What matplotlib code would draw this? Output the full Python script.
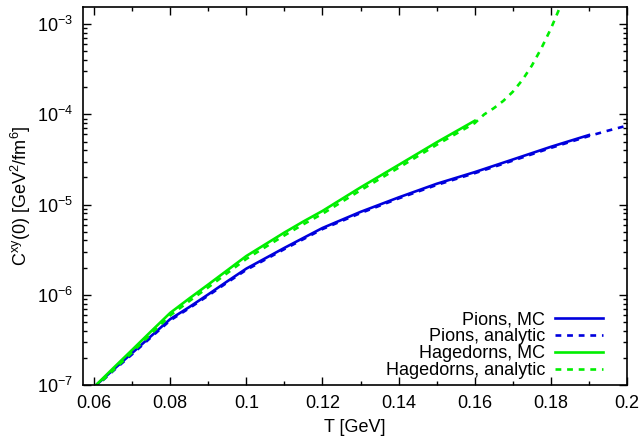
import matplotlib
matplotlib.use('Agg')
from matplotlib import pyplot as plt
from matplotlib.ticker import MultipleLocator, LogLocator, NullFormatter

plt.rcParams['font.family'] = ['Liberation Sans', 'DejaVu Sans']
plt.rcParams['mathtext.fontset'] = 'custom'
plt.rcParams['mathtext.rm'] = 'Liberation Sans'
plt.rcParams['mathtext.it'] = 'Liberation Sans'

# temperatures [GeV]
t_pions = [0.06, 0.065, 0.07, 0.075, 0.08, 0.085, 0.09, 0.095, 0.1, 0.105,
           0.11, 0.115, 0.12, 0.13, 0.14, 0.15, 0.16, 0.17, 0.18, 0.19]
pions_mc = [9.5e-8, 1.47e-7, 2.26e-7, 3.49e-7, 5.37e-7, 7.3e-7, 1.01e-6, 1.41e-6,
            1.95e-6, 2.54e-6, 3.31e-6, 4.27e-6, 5.5e-6, 8.3e-6, 1.20e-5, 1.70e-5,
            2.29e-5, 3.16e-5, 4.37e-5, 5.9e-5]

t_pions_an = t_pions + [0.195, 0.2]
pions_an = [9.2e-8, 1.43e-7, 2.19e-7, 3.39e-7, 5.2e-7, 7.1e-7, 0.98e-6, 1.37e-6,
            1.89e-6, 2.46e-6, 3.21e-6, 4.14e-6, 5.35e-6, 8.05e-6, 1.17e-5, 1.65e-5,
            2.23e-5, 3.07e-5, 4.25e-5, 5.75e-5, 6.6e-5, 7.5e-5]

t_hag = [0.06, 0.065, 0.07, 0.075, 0.08, 0.085, 0.09, 0.095, 0.1, 0.105,
         0.11, 0.115, 0.12, 0.13, 0.14, 0.15, 0.16]
hag_mc = [9.5e-8, 1.53e-7, 2.45e-7, 3.94e-7, 6.3e-7, 9.1e-7, 1.30e-6, 1.87e-6,
          2.69e-6, 3.63e-6, 4.9e-6, 6.5e-6, 8.5e-6, 1.55e-5, 2.75e-5, 4.9e-5, 8.5e-5]

t_hag_an = t_hag + [0.1625, 0.165, 0.1675, 0.17, 0.1725, 0.175, 0.1775, 0.18, 0.1825]
hag_an = [9.2e-8, 1.45e-7, 2.3e-7, 3.7e-7, 5.9e-7, 8.5e-7, 1.21e-6, 1.74e-6,
          2.5e-6, 3.38e-6, 4.55e-6, 6.05e-6, 7.9e-6, 1.44e-5, 2.56e-5, 4.6e-5, 8.0e-5,
          1.0e-4, 1.17e-4, 1.41e-4, 1.78e-4, 2.4e-4, 3.47e-4, 5.4e-4, 8.9e-4, 1.58e-3]

blue = '#0000dd'
green = '#00ee00'

fig = plt.figure(figsize=(6.42, 4.41), dpi=100)
ax = fig.add_axes([83 / 642, 1 - 385 / 441, (627 - 83) / 642, (385 - 7) / 441])

lw = 1.9
ax.plot(t_pions, pions_mc, color=blue, lw=lw, label='Pions, MC')
ax.plot(t_pions_an, pions_an, color=blue, lw=lw, dashes=(2.2, 2.2), label='Pions, analytic')
ax.plot(t_hag, hag_mc, color=green, lw=lw, label='Hagedorns, MC')
ax.plot(t_hag_an, hag_an, color=green, lw=lw, dashes=(2.2, 2.2), label='Hagedorns, analytic')

ax.set_yscale('log')
ax.set_xlim(0.0571, 0.2)
ax.set_ylim(1e-7, 1.55e-3)

ax.xaxis.set_minor_locator(MultipleLocator(0.01))
ax.set_xticks([0.06, 0.08, 0.1, 0.12, 0.14, 0.16, 0.18, 0.2])
ax.set_xticklabels(['0.06', '0.08', '0.1', '0.12', '0.14', '0.16', '0.18', '0.2'])
ax.yaxis.set_major_locator(LogLocator(base=10, numticks=10))
ax.yaxis.set_minor_locator(LogLocator(base=10, subs=range(2, 10), numticks=20))
ax.yaxis.set_minor_formatter(NullFormatter())

ax.tick_params(which='both', direction='in', top=True, right=True, labelsize=13, width=1)
ax.tick_params(which='major', length=6, pad=7)
ax.tick_params(which='minor', length=3)
for s in ax.spines.values():
    s.set_linewidth(1.2)

ax.set_xlabel('T [GeV]', fontsize=13, labelpad=5)
ax.set_ylabel(r'C$^{\rm xy}$(0) [GeV$^2$/fm$^6$]', fontsize=13, labelpad=3)

ax.legend(loc='lower right', frameon=False, markerfirst=False, fontsize=13,
          handlelength=2.68, handletextpad=0.55, labelspacing=0.0,
          borderaxespad=0.3, bbox_to_anchor=(0.98, -0.018))

fig.savefig('out.png', dpi=100)
